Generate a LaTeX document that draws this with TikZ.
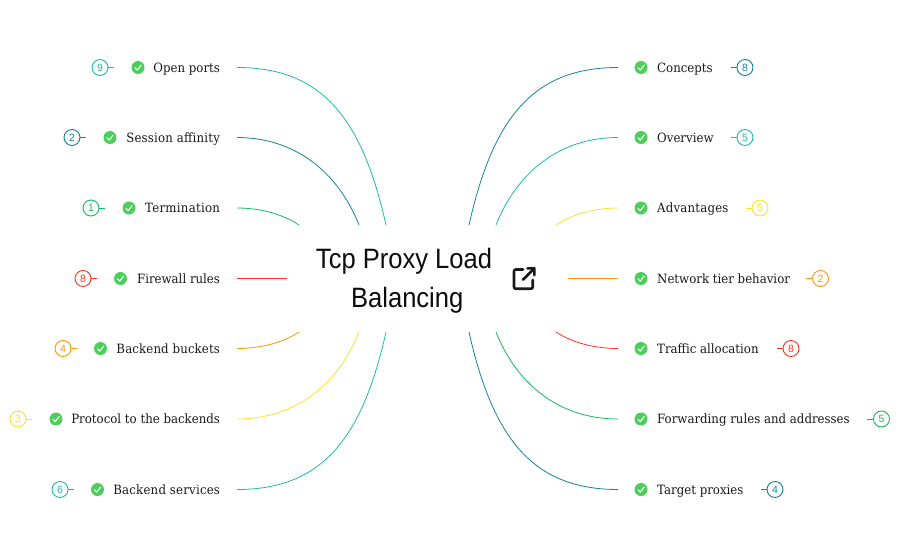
\documentclass[tikz,border=0pt]{standalone}
\usepackage{fontspec}
\setmainfont{DejaVu Serif}[FakeStretch=0.92]
\newfontfamily\titlefont{Liberation Sans}[FakeStretch=0.912]
\newfontfamily\numfont{Liberation Sans}
\definecolor{cteal}{HTML}{1CBBAA}
\definecolor{cblue}{HTML}{16809F}
\definecolor{cgreen}{HTML}{17B860}
\definecolor{cred}{HTML}{FF3322}
\definecolor{corange}{HTML}{FF9800}
\definecolor{cyellow}{HTML}{FFDF2E}
\definecolor{ccheck}{HTML}{4CCF5A}
\tikzset{
  x=1pt,y=-1pt,
  lab/.style={font=\fontsize{12.8}{14}\selectfont,text=black!90,inner xsep=0pt,inner ysep=1pt,text height=10pt,text depth=1pt},
  labl/.style={lab,anchor=east,outer xsep=17pt},
  labr/.style={lab,anchor=west},
  chk/.style={circle,fill=ccheck,minimum size=13pt,inner sep=0pt,outer sep=0pt},
  chkr/.style={chk,outer sep=16.5pt},
  badge/.style={circle,draw=#1,line width=.9pt,minimum size=16pt,inner sep=0pt,text=#1,font=\numfont\fontsize{10.5}{12}\selectfont},
  lead/.style={line width=.8pt},
  link/.style={line width=.8pt},
  tick/.style={draw=white,line width=1.1pt,line cap=round,line join=round}
}
\newcommand{\wider}[2]{{\addfontfeature{LetterSpace=#1}#2}}
\newcommand{\tickat}[1]{\draw[tick] ([shift={(-3,0.3)}]#1.center) -- ([shift={(-0.8,2.6)}]#1.center) -- ([shift={(3.2,-2.4)}]#1.center);}
% name, y, text, check x, badge x, number, colour
\newcommand{\leftitem}[7]{%
  \node[labl] (t#1) at (237,#2) {#3};
  \node[chk] (c#1) at (#4,#2) {};
  \tickat{c#1}
  \node[badge=#7] (b#1) at (#5,#2) {#6};
  \draw[lead,#7] (b#1.east) -- ++(6,0);
}
\newcommand{\rightitem}[8]{%
  \node[chkr] (c#1) at (641,#2) {};
  \tickat{c#1}
  \node[labr] (t#1) at (657,#2) {#3};
  \node[badge=#7] (b#1) at (#5,#2) {#6};
  \draw[lead,#7] (b#1.west) -- ++(-#8,0);
}
\begin{document}
\begin{tikzpicture}
\useasboundingbox[fill=white] (0,0) rectangle (900,557);
\node[align=center,font=\titlefont\fontsize{28}{39}\selectfont,text=black!95,inner sep=0pt] (hub) at (404,280.5) {Tcp Proxy Load\\\hspace*{6.5pt}Balancing};
% open-link icon
\draw[line width=2.6pt,line cap=round,line join=round,black!90] (523,269.5) -- (516,269.5) .. controls (514.5,269.5) and (514,270) .. (514,271.5) -- (514,286.7) .. controls (514,288.2) and (514.5,288.7) .. (516,288.7) -- (530.7,288.7) .. controls (532.2,288.7) and (532.7,288.2) .. (532.7,286.7) -- (532.7,280);
\draw[line width=2.6pt,line cap=round,line join=round,black!90] (527.5,268.3) -- (534.4,268.3) -- (534.4,275.2) (534.4,268.3) -- (523,279.7);
% hub ends
\foreach \n/\x/\y in {la/386/225,lb/359/225,lc/299/225,ld/287/278.5,le/299/332,lf/359/332,lg/386/332,
  ra/469/225,rb/496/225,rc/556/225,rd/568/278.5,re/556/332,rf/496/332,rg/469/332}
  \coordinate (\n) at (\x,\y);
\leftitem{la}{67.5}{Open ports}{138}{100}{9}{cteal}
\leftitem{lb}{137.5}{\wider{1.5}{Session affinity}}{110}{72}{2}{cblue}
\leftitem{lc}{208}{\wider{2}{Termination}}{129}{91}{1}{cgreen}
\leftitem{ld}{278.5}{Firewall rules}{120.5}{83}{8}{cred}
\leftitem{le}{348.5}{\wider{1}{Backend buckets}}{100.5}{63}{4}{corange}
\leftitem{lf}{419}{Protocol to the backends}{56}{18}{3}{cyellow}
\leftitem{lg}{489.5}{\wider{1.5}{Backend services}}{97.5}{60}{6}{cteal}
\rightitem{ra}{67.5}{Concepts}{}{745}{8}{cblue}{6}
\rightitem{rb}{137.5}{Overview}{}{745}{5}{cteal}{6}
\rightitem{rc}{208}{\wider{1.5}{Advantages}}{}{760}{5}{cyellow}{6}
\rightitem{rd}{278.5}{Network tier behavior}{}{820.5}{2}{corange}{6}
\rightitem{re}{348.5}{Traffic allocation}{}{791}{8}{cred}{6}
\rightitem{rf}{419}{Forwarding rules and addresses}{}{881.5}{5}{cgreen}{6}
\rightitem{rg}{489.5}{Target proxies}{}{775}{4}{cblue}{6}
% connectors
\draw[link,cteal] (tla.east) .. controls (322,67.5) and (362,118) .. (la);
\draw[link,cblue] (tlb.east) .. controls (295,137.5) and (338,172) .. (lb);
\draw[link,cgreen] (tlc.east) .. controls (262,208) and (284,215) .. (lc);
\draw[link,cred] (tld.east) -- (ld);
\draw[link,corange] (tle.east) .. controls (262,348.5) and (284,342) .. (le);
\draw[link,cyellow] (tlf.east) .. controls (295,419) and (338,385) .. (lf);
\draw[link,cteal] (tlg.east) .. controls (322,489.5) and (362,439) .. (lg);
\draw[link,cblue] (cra.west) .. controls (533,67.5) and (493,118) .. (ra);
\draw[link,cteal] (crb.west) .. controls (560,137.5) and (517,172) .. (rb);
\draw[link,cyellow] (crc.west) .. controls (593,208) and (571,215) .. (rc);
\draw[link,corange] (crd.west) -- (rd);
\draw[link,cred] (cre.west) .. controls (593,348.5) and (571,342) .. (re);
\draw[link,cgreen] (crf.west) .. controls (560,419) and (517,385) .. (rf);
\draw[link,cblue] (crg.west) .. controls (533,489.5) and (493,439) .. (rg);
\end{tikzpicture}
\end{document}
